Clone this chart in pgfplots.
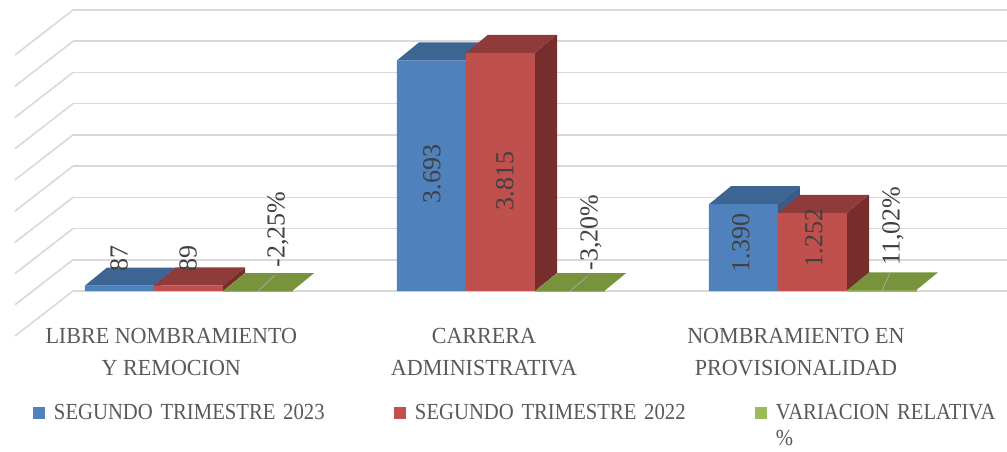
\documentclass[border=0pt]{standalone}
\usepackage{pgfplots}
\pgfplotsset{compat=1.18}
\usepackage{fontspec}
\setmainfont{Liberation Serif}
\newfontfamily\legfont{Liberation Serif}[FakeStretch=0.9]
\newfontfamily\catfont{Liberation Serif}[FakeStretch=0.96]
\definecolor{blueF}{HTML}{4F81BD}
\definecolor{blueT}{HTML}{3D6593}
\definecolor{blueS}{HTML}{385D8A}
\definecolor{redF}{HTML}{C0504D}
\definecolor{redT}{HTML}{8F3B39}
\definecolor{redS}{HTML}{772D2B}
\definecolor{greenL}{HTML}{9BBB59}
\definecolor{greenT}{HTML}{77933C}
\definecolor{gridc}{HTML}{D9D9D9}
\definecolor{txtgray}{HTML}{595959}
\definecolor{lblgray}{HTML}{404040}
% top and side faces of a bar: x0, x1, value, top colour, side colour, draw side (1/0)
\newcommand\topside[6]{%
  \pgfmathsetmacro\xA{#1+0.0705}%
  \pgfmathsetmacro\xB{#2+0.0705}%
  \pgfmathsetmacro\yT{#3+288.3}%
  \edef\tmp{\noexpand\addplot[fill=#4,draw=none,forget plot] coordinates {(#1,#3) (#2,#3) (\xB,\yT) (\xA,\yT)};}\tmp
  \ifnum#6=1
    \edef\tmp{\noexpand\addplot[fill=#5,draw=none,forget plot] coordinates {(#2,0) (\xB,288.3) (\xB,\yT) (#2,#3)};}\tmp
  \fi
}
\begin{document}
\begin{tikzpicture}
\begin{axis}[
  at={(0pt,0pt)}, anchor=south west,
  scale only axis, width=934pt, height=281pt,
  xmin=0.6298, xmax=3.6234, ymin=0, ymax=4500,
  clip=false,
  axis line style={draw=none},
  tick style={draw=none}, major tick length=0pt,
  ytick={0,500,...,4500}, yticklabels={},
  ymajorgrids, grid style={gridc, line width=1.6pt},
  xtick={0.945,1.947,2.947},
  xticklabels={{LIBRE NOMBRAMIENTO\\Y REMOCION},{CARRERA\\ADMINISTRATIVA},{NOMBRAMIENTO EN\\PROVISIONALIDAD}},
  xticklabel style={align=center, anchor=north, inner sep=0pt, yshift=-37pt, text=txtgray, font=\catfont\fontsize{23}{32}\selectfont},
  legend image code/.code={\path[#1,draw=none] (0pt,0pt) rectangle (12pt,12pt);},
  legend style={draw=none, fill=none, inner sep=0pt, outer sep=0pt,
    at={(-0.04283,-0.3943)}, anchor=north west,
    font=\legfont\fontsize{23}{26}\selectfont, text=txtgray,
    cells={anchor=base west, inner sep=0pt, text width=338pt, align=left},
    /tikz/every odd column/.append style={column sep=7pt}},
  legend columns=3,
]
% side-wall grid lines
\addplot[gridc, line width=1.6pt, forget plot, unbounded coords=jump] coordinates {
 (0.6298,0) (0.4439,-720.6) (nan,nan)
 (0.6298,500) (0.4439,-220.6) (nan,nan)
 (0.6298,1000) (0.4439,279.4) (nan,nan)
 (0.6298,1500) (0.4439,779.4) (nan,nan)
 (0.6298,2000) (0.4439,1279.4) (nan,nan)
 (0.6298,2500) (0.4439,1779.4) (nan,nan)
 (0.6298,3000) (0.4439,2279.4) (nan,nan)
 (0.6298,3500) (0.4439,2779.4) (nan,nan)
 (0.6298,4000) (0.4439,3279.4) (nan,nan)
 (0.6298,4500) (0.4439,3779.4)
};
% SEGUNDO TRIMESTRE 2023
\addplot[ybar, bar width=0.2212, bar shift=-0.2212, fill=blueF, draw=none]
  coordinates {(1,87) (2,3693) (3,1390)};
\addlegendentry{SEGUNDO TRIMESTRE 2023}
\topside{0.6682}{0.8894}{87}{blueT}{blueS}{1}
\topside{1.6682}{1.8894}{3693}{blueT}{blueS}{1}
\topside{2.6682}{2.8894}{1390}{blueT}{blueS}{1}
% SEGUNDO TRIMESTRE 2022
\addplot[ybar, bar width=0.2212, bar shift=0, fill=redF, draw=none]
  coordinates {(1,89) (2,3815) (3,1252)};
\addlegendentry{SEGUNDO TRIMESTRE 2022}
\topside{0.8894}{1.1106}{89}{redT}{redS}{1}
\topside{1.8894}{2.1106}{3815}{redT}{redS}{1}
\topside{2.8894}{3.1106}{1252}{redT}{redS}{1}
% VARIACION RELATIVA %
\addplot[ybar, bar width=0.2212, bar shift=0.2212, fill=greenL, draw=greenL, line width=0.8pt]
  coordinates {(1,-2.25) (2,-3.20) (3,11.02)};
\addlegendentry{\parbox[t]{338pt}{VARIACION RELATIVA\\\%}}
\topside{1.1106}{1.3318}{-2.25}{greenT}{greenT}{0}
\topside{2.1106}{2.3318}{-3.20}{greenT}{greenT}{0}
\topside{3.1106}{3.3318}{11.02}{greenT}{greenT}{0}
% leader lines
\addplot[gray!70, line width=0.8pt, forget plot, unbounded coords=jump] coordinates {
 (1.2772,256) (1.2228,0) (nan,nan)
 (2.2804,240) (2.2228,0) (nan,nan)
 (3.2484,288) (3.2228,0)
};
% data labels
\addplot[only marks, mark=none, forget plot, point meta=explicit symbolic,
  nodes near coords,
  every node near coord/.append style={anchor=center, rotate=90, inner sep=0pt, text=lblgray, font=\fontsize{26}{30}\selectfont}]
 coordinates {
 (0.7772,528) [87]
 (0.9984,528) [89]
 (1.2869,985) [-2,25\%]
 (1.7804,1874) [3.693]
 (2.0144,1762) [3.815]
 (2.2901,937) [-3,20\%]
 (2.7708,769) [1.390]
 (3.0048,849) [1.252]
 (3.2580,1041) [11,02\%]
};
\end{axis}
\pgfresetboundingbox
\path[use as bounding box] (-73pt,-160pt) rectangle (934pt,291pt);
\end{tikzpicture}
\end{document}
